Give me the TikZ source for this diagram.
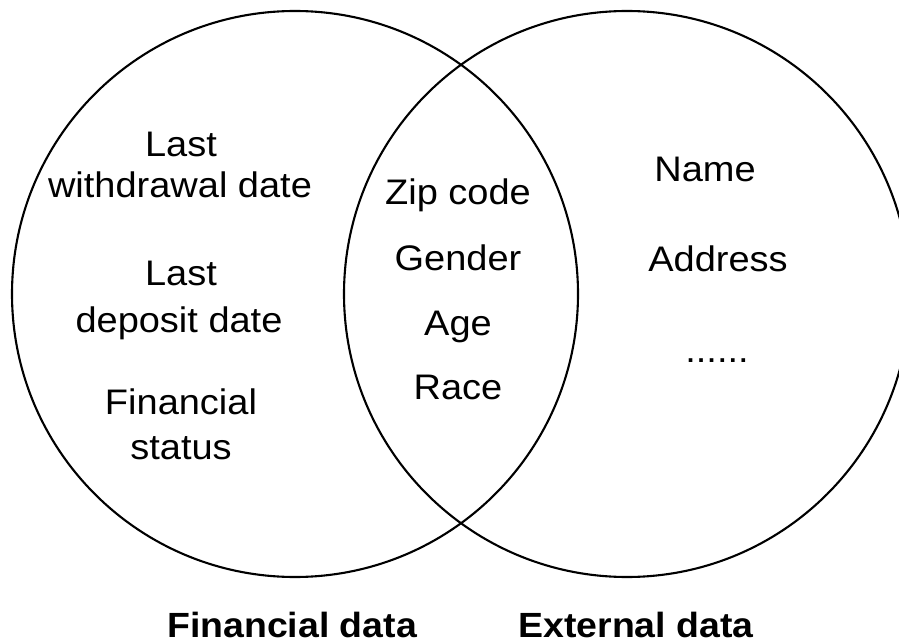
\documentclass[tikz,border=0pt]{standalone}
\usepackage{fontspec}
\setmainfont{Liberation Sans}[FakeStretch=1.07]
\begin{document}
\begin{tikzpicture}[x=1pt,y=-1pt,
  venn/.style={draw=black,line width=2.1pt},
  lbl/.style={anchor=base,inner sep=0pt,font=\fontsize{35.5}{42}\selectfont},
  captext/.style={anchor=base,inner sep=0pt,font=\fontsize{35}{42}\selectfont\bfseries}]
\useasboundingbox (0,0) rectangle (899,644);
\begin{scope}
\clip (0,0) rectangle (899,644);
\draw[venn] (295,294) circle[radius=283];
\draw[venn] (627,294) circle[radius=283];
\end{scope}
% left
\node[lbl] (l1) at (181,157) {Last};
\node[lbl] (l2) at (180,198) {withdrawal date};
\node[lbl] (l3) at (181,286) {Last};
\node[lbl] (l4) at (179,332) {deposit date};
\node[lbl] (l5) at (181,414) {Financial};
\node[lbl] (l6) at (181,459) {status};
% middle
\node[lbl] (m1) at (458,205) {Zip code};
\node[lbl] (m2) at (458,270) {Gender};
\node[lbl] (m3) at (458,335) {Age};
\node[lbl] (m4) at (458,399) {Race};
% right
\node[lbl] (r1) at (705,182) {Name};
\node[lbl] (r2) at (718,272) {Address};
\node[lbl] (r3) at (717,362) {......};
% captions
\node[captext] (c1) at (292,637) {Financial data};
\node[captext] (c2) at (636,637) {External data};
\end{tikzpicture}
\end{document}
